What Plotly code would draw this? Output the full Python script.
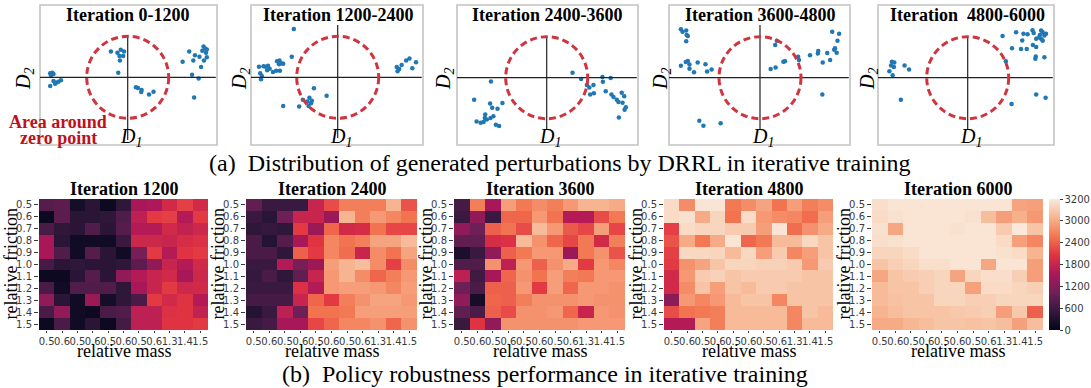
import numpy as np
import plotly.graph_objects as go

W, H = 1091, 388
SERIF = "Liberation Serif, Times New Roman, serif"
SANS = "DejaVu Sans, sans-serif"

# ---------------- data: (a) perturbations D1/D2 ----------------
titles_a = ["Iteration 0-1200", "Iteration 1200-2400", "Iteration 2400-3600",
            "Iteration 3600-4800", "Iteration\u00a0 4800-6000"]

d1_0_1200 = [-1.89, -1.84, -1.81, -1.87, -1.81, -1.75, -1.69, -1.63, -1.89, -1.77,
             -0.41, -0.25, -0.17, -0.09, -0.20, -0.11, -0.19, -0.23,
             0.20, 0.25, 0.34, 0.33, 0.52, 0.63,
             1.34, 1.50, 1.60, 1.64, 1.75, 1.82, 1.85, 1.89, 1.93, 1.91, 1.93, 1.86, 1.79, 1.57, 1.73, 1.62]
d2_0_1200 = [0.10, 0.11, 0.08, 0.05, -0.09, -0.13, -0.11, -0.07, -0.21, -0.16,
             0.63, 0.60, 0.67, 0.63, 0.52, 0.52, 0.41, 0.11,
             -0.24, -0.26, -0.31, -0.36, -0.42, -0.35,
             0.38, 0.63, 0.41, 0.54, 0.50, 0.65, 0.75, 0.70, 0.68, 0.60, 0.49, 0.41, 0.25, 0.06, -0.03, -0.49]

d1_1200_2400 = [-1.07, -1.12, -1.92, -1.81, -1.76, -1.70, -1.66, -1.72, -1.58, -1.50, -1.48, -1.42, -1.37,
                -1.43, -1.33, -1.89, -1.85, -1.87, -1.41,
                -0.58, -0.27, -0.85, -0.69, -0.63, -0.74, -0.71, -0.65, -0.94, -1.33,
                1.44, 1.50, 1.46, 1.56, 1.67, 1.75, 1.91, 1.82]
d2_1200_2400 = [1.18, 0.50, 0.26, 0.27, 0.26, 0.28, 0.21, 0.17, 0.13, 0.16, 0.39, 0.41, 0.34,
                0.32, 0.33, 0.10, 0.03, -0.05, 0.16,
                -0.27, -0.45, -0.55, -0.50, -0.57, -0.59, -0.70, -0.63, -0.71, -0.70,
                0.25, 0.20, 0.15, 0.30, 0.41, 0.46, 0.37, 0.22]

d1_2400_3600 = [0.63, 0.84, 1.36, 1.56, 1.37, 0.98, 1.04, 1.14, 1.15, 1.06, 1.44, 1.58, 1.63, 1.71,
                1.83, 1.89, 1.75, 1.85, 1.93, 1.90, 1.76,
                -1.36, -1.77, -1.38, -1.33, -1.20, -1.08, -1.50, -1.51, -1.30, -1.37, -1.71, -1.61,
                -1.54, -1.24, -1.16, -1.46]
d2_2400_3600 = [0.12, -0.03, 0.02, -0.01, -0.10, -0.18, -0.24, -0.18, -0.38, -0.41, -0.33, -0.41, -0.47, -0.54,
                -0.37, -0.45, -0.59, -0.61, -0.72, -0.78, -0.97,
                -0.09, -0.54, -0.63, -0.73, -0.76, -0.62, -0.90, -0.98, -0.94, -0.98, -1.07, -1.10,
                -1.08, -1.15, -1.18, -1.02]

d1_3600_4800 = [-1.93, -1.89, -1.80, -1.79, -1.76, -1.80, -1.93, -1.81, -1.76, -1.72, -1.72, -1.61, -1.52,
                -1.33, -1.29, -1.18, -1.48, -1.38, -0.96,
                0.26, 0.38, 0.57, 0.61, 0.37, 0.41, 0.93, 0.95, 1.22, 1.41, 1.42, 1.53, 1.64, 1.71,
                1.81, 1.87, 1.83, 1.89, 1.76, 1.93, 1.52]
d2_3600_4800 = [1.18, 1.12, 1.15, 1.04, 1.02, 0.89, 0.29, 0.38, 0.41, 0.32, 0.22, 0.13, 0.37,
                0.33, 0.15, 0.20, -1.05, -1.17, -1.11,
                0.21, 0.25, 0.39, 0.40, 0.80, 0.90, 0.51, 0.43, 0.55, 0.59, 0.65, 0.37, 0.60, 0.43,
                0.68, 0.61, 0.72, 0.90, 1.12, 1.07, -0.41]

d1_4800_6000 = [-1.85, -1.79, -1.87, -1.80, -1.91, -1.83, -1.54, -1.43, -1.63,
                0.85, 1.18, 1.36, 1.46, 1.58, 1.61, 1.79, 1.83, 1.76, 1.87, 1.91, 1.80, 1.74, 1.83,
                1.67, 1.33, 1.59, 1.67, 1.08, 1.30, 1.44, 1.66, 1.65, 1.87, 0.93, 1.07, 1.67, 1.90]
d2_4800_6000 = [0.39, 0.37, 0.30, 0.26, 0.16, 0.06, 0.30, 0.20, -0.54,
                1.02, 1.11, 1.07, 1.06, 1.16, 1.09, 1.15, 1.11, 1.04, 1.03, 1.07, 0.94, 0.98, 0.90,
                0.95, 0.91, 0.80, 0.75, 0.72, 0.70, 0.70, 0.52, 0.46, 0.50, 0.40, -0.64, -0.41, -0.49]

# ---------------- data: (b) robustness heatmaps ----------------
titles_b = ["Iteration 1200", "Iteration 2400", "Iteration 3600", "Iteration 4800", "Iteration 6000"]
mass_labels = ["0.5", "0.6", "0.5", "0.6", "0.5", "0.6", "0.5", "0.6", "1.3", "1.4", "1.5"]
friction_labels = ["0.5", "0.6", "0.7", "0.8", "0.9", "1.0", "1.1", "1.2", "1.3", "1.4", "1.5"]
cbar_labels = [0, 600, 1200, 1800, 2400, 3000, 3200]

perf_1200 = [
    [800, 850, 200, 400, 100, 450, 1500, 1550, 1900, 2150, 1900],
    [100, 850, 400, 400, 450, 750, 1700, 2100, 2150, 1600, 2100],
    [700, 450, 400, 750, 400, 800, 1600, 1600, 1900, 1750, 1850],
    [1500, 400, 150, 150, 150, 550, 1850, 1850, 1800, 1950, 2000],
    [1500, 750, 150, 800, 400, 150, 1100, 2100, 1600, 2050, 2100],
    [650, 400, 450, 400, 400, 450, 850, 1300, 1800, 1600, 1900],
    [100, 100, 400, 800, 400, 1300, 1600, 1800, 1900, 1500, 1850],
    [700, 150, 750, 750, 750, 450, 1500, 1800, 2100, 1850, 1900],
    [1300, 400, 150, 1400, 200, 450, 700, 2100, 1900, 2050, 1600],
    [700, 1300, 150, 100, 700, 750, 1700, 1700, 2000, 2050, 1750],
    [100, 700, 150, 400, 100, 650, 1700, 1700, 2050, 2050, 2100],
]
perf_2400 = [
    [900, 550, 550, 550, 1800, 2250, 2650, 2650, 2650, 3030, 2300],
    [550, 400, 1000, 1800, 1800, 1400, 3030, 2650, 2850, 2700, 2550],
    [450, 500, 450, 2100, 1400, 2450, 1900, 1950, 2550, 2200, 2200],
    [700, 350, 800, 1500, 2050, 2700, 2550, 2650, 2950, 2950, 3050],
    [700, 700, 450, 2400, 2100, 2700, 2500, 1800, 2750, 2550, 2950],
    [550, 550, 1600, 1100, 1400, 2900, 3030, 3060, 2750, 2150, 2750],
    [500, 700, 450, 900, 1800, 2850, 3030, 2750, 2450, 2650, 2850],
    [550, 550, 550, 2000, 1600, 2850, 2900, 2900, 2850, 2700, 2900],
    [650, 650, 650, 1800, 2450, 2100, 2650, 2800, 2950, 2950, 2850],
    [350, 550, 1700, 1000, 2550, 2550, 2600, 2900, 2900, 2900, 2900],
    [550, 650, 1500, 1500, 2200, 2450, 2700, 2700, 2800, 2450, 2800],
]
perf_3600 = [
    [650, 2650, 1500, 2900, 2600, 2750, 2650, 2850, 3030, 3030, 3000],
    [550, 1300, 550, 2450, 2450, 2850, 2550, 1600, 1600, 2250, 2600],
    [1300, 1000, 2400, 2550, 2250, 3050, 2850, 2350, 2200, 2900, 2200],
    [900, 900, 1950, 2000, 3050, 2800, 2450, 2200, 2600, 1900, 2650],
    [250, 550, 1300, 2400, 2600, 2850, 2850, 1400, 2600, 2800, 2300],
    [750, 750, 2800, 1700, 2850, 2400, 2800, 3000, 2100, 2850, 2700],
    [1700, 600, 1500, 2450, 2800, 2550, 2900, 2650, 2600, 2850, 2850],
    [1000, 700, 2400, 2400, 2850, 2100, 2900, 2450, 2850, 2850, 2800],
    [1300, 200, 2450, 2400, 2650, 2800, 2800, 2800, 2850, 2800, 2800],
    [900, 700, 2400, 2250, 2800, 2800, 2850, 2450, 1800, 2850, 2800],
    [550, 2050, 1300, 2800, 2800, 2800, 2800, 2800, 2850, 2850, 2850],
]
perf_4800 = [
    [3150, 2750, 3180, 3180, 2600, 2750, 2950, 2550, 2900, 2650, 2750],
    [3150, 3170, 3000, 3130, 2550, 3150, 2850, 2750, 2700, 2500, 2900],
    [2150, 3150, 3130, 3130, 3100, 3100, 2900, 3180, 2500, 2800, 3000],
    [2300, 3000, 2600, 3000, 3180, 2450, 2600, 3050, 3050, 3140, 3080],
    [2150, 3140, 3140, 3130, 3050, 3140, 2900, 3100, 2700, 2900, 3080],
    [2100, 2800, 2950, 3080, 3130, 3130, 3120, 3120, 3100, 2850, 3100],
    [1900, 2850, 3100, 3120, 3080, 3100, 3100, 3100, 3100, 3080, 3080],
    [1900, 2750, 3080, 2900, 3080, 3050, 3100, 3100, 3080, 3080, 3080],
    [1250, 2850, 2700, 2850, 3050, 3080, 3080, 2700, 3080, 3080, 3080],
    [2250, 2550, 2600, 2650, 3050, 3050, 3050, 3050, 2700, 3080, 3050],
    [1600, 1600, 2950, 2650, 3050, 3050, 3050, 3050, 2700, 3050, 3050],
]
perf_6000 = [
    [3160, 3180, 3180, 3180, 3180, 3180, 3180, 3180, 3180, 2950, 2920],
    [3150, 3170, 3180, 3180, 3180, 3180, 3170, 3060, 2900, 3020, 2850],
    [3170, 2980, 3180, 3180, 3180, 3170, 3180, 3180, 3100, 3190, 3080],
    [3160, 3170, 3180, 3180, 3180, 3180, 3180, 3180, 3150, 2920, 2700],
    [3130, 3130, 3150, 3180, 3180, 3180, 3180, 3180, 3170, 3150, 3030],
    [3080, 3110, 3130, 3160, 3160, 3180, 3180, 2980, 3180, 3180, 2900],
    [2980, 3080, 3100, 3110, 3130, 2950, 3130, 3160, 3160, 3110, 2900],
    [3050, 3080, 3080, 3110, 3130, 3130, 2930, 3150, 3150, 3130, 3110],
    [3050, 3070, 3080, 3080, 3130, 3130, 3110, 3110, 3130, 3130, 3130],
    [3030, 3060, 3080, 3080, 3080, 3090, 3100, 3110, 2900, 3090, 2400],
    [3000, 3000, 3040, 3060, 3080, 3080, 3070, 3080, 3060, 2920, 3060],
]

# ---------------- layout geometry (pixels) ----------------
scatter_sets = [(d1_0_1200, d2_0_1200), (d1_1200_2400, d2_1200_2400), (d1_2400_3600, d2_2400_3600),
                (d1_3600_4800, d2_3600_4800), (d1_4800_6000, d2_4800_6000)]
boxes = [(40, 217), (251, 423), (457, 638), (669, 850), (878, 1054)]
box_top, box_bot = 5, 145
centers = [(127.7, 77.3), (337.7, 77.3), (546.7, 77.7), (760.0, 77.7), (967.7, 77.7)]
R = 41.0
vtop_px = [36, 25, 36, 25, 36]
vbot_px = [140, 138, 130, 130, 130]
d2_x = [25, 241, 445, 662, 869]

hm_x = [(39, 208), (246, 417), (454, 625), (664, 833), (872, 1043)]
hm_top, hm_bot = 199, 330

def px(x):
    return x / W

def py(y):
    return 1 - y / H

fig = go.Figure()
shapes = []
annotations = []
layout = {}

for i, ((d1, d2), (bl, br), (cx, cy)) in enumerate(zip(scatter_sets, boxes, centers)):
    n = i + 1
    xr = [(bl - cx) / R, (br - cx) / R]
    yr = [(cy - box_bot) / R, (cy - box_top) / R]
    layout[f"xaxis{n}"] = dict(domain=[px(bl), px(br)], range=xr, visible=False, fixedrange=True)
    layout[f"yaxis{n}"] = dict(domain=[py(box_bot), py(box_top)], range=yr, visible=False, fixedrange=True)
    xa, ya = ("x" if n == 1 else f"x{n}"), ("y" if n == 1 else f"y{n}")
    shapes.append(dict(type="rect", xref="paper", yref="paper", x0=px(bl), x1=px(br), y0=py(box_bot), y1=py(box_top),
                       line=dict(color="#c4c4c4", width=1.6), layer="below"))
    shapes.append(dict(type="line", xref=xa, yref=ya, x0=xr[0], x1=xr[1] - 0.03, y0=0, y1=0,
                       line=dict(color="#222222", width=1.2)))
    shapes.append(dict(type="line", xref=xa, yref=ya, x0=0, x1=0, y0=(cy - vtop_px[i]) / R, y1=(cy - vbot_px[i]) / R,
                       line=dict(color="#222222", width=1.2)))
    shapes.append(dict(type="circle", xref=xa, yref=ya, x0=-1, x1=1, y0=-1, y1=1,
                       line=dict(color="#d0343f", width=3, dash="7px,4px")))
    fig.add_trace(go.Scatter(x=d1, y=d2, mode="markers", xaxis=xa, yaxis=ya,
                             marker=dict(color="#1f77b4", size=4.5), showlegend=False, hoverinfo="skip"))
    annotations.append(dict(text=f"<b>{titles_a[i]}</b>", x=px(cx), y=py(15), xref="paper", yref="paper",
                            showarrow=False, font=dict(family=SERIF, size=18, color="black"),
                            xanchor="center", yanchor="middle"))
    annotations.append(dict(text="<i>D<sub>2</sub></i>", x=px(d2_x[i]), y=py(79), xref="paper", yref="paper",
                            showarrow=False, textangle=-90, font=dict(family=SERIF, size=20, color="black"),
                            xanchor="center", yanchor="middle"))
    annotations.append(dict(text="<i>D<sub>1</sub></i>", x=px(cx + 3), y=py(137), xref="paper", yref="paper",
                            showarrow=False, font=dict(family=SERIF, size=20, color="black"),
                            xanchor="center", yanchor="middle"))

annotations.append(dict(text="<b>Area around</b>", x=px(58), y=py(122), xref="paper", yref="paper",
                        showarrow=False, font=dict(family=SERIF, size=18, color="#c0101c"),
                        xanchor="center", yanchor="middle"))
annotations.append(dict(text="<b>zero point</b>", x=px(58), y=py(138), xref="paper", yref="paper",
                        showarrow=False, font=dict(family=SERIF, size=18, color="#c0101c"),
                        xanchor="center", yanchor="middle"))

# ---------------- heatmaps ----------------
rocket = [[0.0, "#03051a"], [1/7, "#35193e"], [2/7, "#701f57"], [3/7, "#ad1759"],
          [4/7, "#e13342"], [5/7, "#f37651"], [6/7, "#f6b48f"], [1.0, "#faebdd"]]
cpos = list(range(len(cbar_labels)))
perfs = [perf_1200, perf_2400, perf_3600, perf_4800, perf_6000]
idx = list(range(11))

for j, (perf, (hl, hr)) in enumerate(zip(perfs, hm_x)):
    n = 6 + j
    xa, ya = f"x{n}", f"y{n}"
    z = np.interp(np.array(perf, dtype=float), cbar_labels, cpos)
    fig.add_trace(go.Heatmap(z=z, x=idx, y=idx, xaxis=xa, yaxis=ya, coloraxis="coloraxis",
                             customdata=perf, hovertemplate="%{customdata}<extra></extra>"))
    tickfont = dict(family=SANS, size=10, color="#3a3a3a")
    layout[f"xaxis{n}"] = dict(domain=[px(hl), px(hr)], range=[-0.5, 10.5], tickvals=idx, ticktext=mass_labels,
                               tickangle=0, ticks="outside", ticklen=2, tickcolor="#3a3a3a", tickfont=tickfont,
                               showgrid=False, zeroline=False, showline=False, anchor=ya, fixedrange=True,
                               automargin=False)
    layout[f"yaxis{n}"] = dict(domain=[py(hm_bot), py(hm_top)], range=[10.5, -0.5], tickvals=idx,
                               ticktext=friction_labels, ticks="outside", ticklen=4, tickcolor="#3a3a3a",
                               tickfont=tickfont, showgrid=False, zeroline=False, showline=False, anchor=xa,
                               fixedrange=True, automargin=False)
    cxh = (hl + hr) / 2
    annotations.append(dict(text=f"<b>{titles_b[j]}</b>", x=px(cxh), y=py(189), xref="paper", yref="paper",
                            showarrow=False, font=dict(family=SERIF, size=18, color="black"),
                            xanchor="center", yanchor="middle"))
    annotations.append(dict(text="relative friction", x=px(hl - 29), y=py((hm_top + hm_bot) / 2), xref="paper",
                            yref="paper", showarrow=False, textangle=-90,
                            font=dict(family=SERIF, size=18, color="black"), xanchor="center", yanchor="middle"))
    annotations.append(dict(text="relative mass", x=px(cxh), y=py(351), xref="paper", yref="paper",
                            showarrow=False, font=dict(family=SERIF, size=18, color="black"),
                            xanchor="center", yanchor="middle"))

annotations.append(dict(text="(a)\u00a0 Distribution of generated perturbations by DRRL in iterative training",
                        x=px(560), y=py(163), xref="paper", yref="paper", showarrow=False,
                        font=dict(family=SERIF, size=24, color="black"), xanchor="center", yanchor="middle"))
annotations.append(dict(text="(b)\u00a0 Policy robustness performance in iterative training",
                        x=px(545), y=py(374), xref="paper", yref="paper", showarrow=False,
                        font=dict(family=SERIF, size=24, color="black"), xanchor="center", yanchor="middle"))

fig.update_layout(
    width=W, height=H, margin=dict(l=0, r=0, t=0, b=0, pad=0, autoexpand=False),
    paper_bgcolor="white", plot_bgcolor="white", showlegend=False,
    shapes=shapes, annotations=annotations,
    coloraxis=dict(colorscale=rocket, cmin=0, cmax=cpos[-1],
                   colorbar=dict(x=px(1049), xanchor="left", y=py(hm_bot), yanchor="bottom",
                                 len=(hm_bot - hm_top) / H, lenmode="fraction", thickness=11,
                                 thicknessmode="pixels", tickvals=cpos, ticktext=[str(v) for v in cbar_labels],
                                 ticks="outside", ticklen=3, tickcolor="#3a3a3a", outlinewidth=0,
                                 xpad=0, ypad=0, tickfont=dict(family=SANS, size=10, color="#3a3a3a"))),
    **layout,
)

fig.write_html("out.html", config={"displayModeBar": False},
               post_script="document.body.style.margin='0';document.body.style.overflow='hidden';")
